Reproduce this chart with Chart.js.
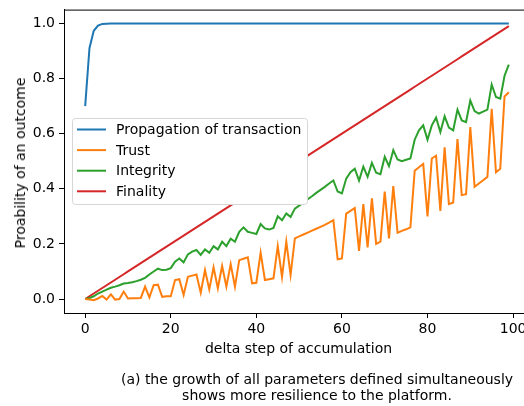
<!DOCTYPE html>
<html>
<head>
<meta charset="utf-8">
<script src="https://cdn.jsdelivr.net/npm/chart.js@4/dist/chart.umd.min.js"></script>
<style>
  html, body { margin: 0; padding: 0; width: 524px; height: 406px; overflow: hidden; background: #fff; }
  body { position: relative; font-family: "DejaVu Sans", sans-serif; color: #000; }
  #wrap { position: absolute; left: 0; top: 0; width: 524px; height: 406px; overflow: hidden; }
  #myChart { position: absolute; left: 0; top: 0; }
  .txt { position: absolute; font-size: 14px; white-space: nowrap; line-height: 16px; }
  #xTitle { left: 0; width: 597px; top: 340px; text-align: center; }
  #yTitle { left: 20px; top: 163px; transform: translate(-50%, -50%) rotate(-90deg); }
  #caption { left: 0; width: 634px; top: 371px; text-align: center; }
</style>
</head>
<body>
<div id="wrap">
<canvas id="myChart" width="540" height="406"></canvas>
<div class="txt" id="xTitle">delta step of accumulation</div>
<div class="txt" id="yTitle">Proability of an outcome</div>
<div class="txt" id="caption">(a) the growth of all parameters defined simultaneously<br>shows more resilience to the platform.</div>
</div>
<script>
// x axis: delta steps 0..99
const steps = Array.from({ length: 100 }, (_, i) => i);

const xTicks = [0, 20, 40, 60, 80, 100];
const yTicks = [0.0, 0.2, 0.4, 0.6, 0.8, 1.0];

const seriesNames = ['Propagation of transaction', 'Trust', 'Integrity', 'Finality'];
const seriesColors = ['#1f77b4', '#ff7f0e', '#2ca02c', '#d62728'];

const propagation = [
  0.70, 0.91, 0.973, 0.992, 0.998, 0.999, 1, 1, 1, 1,
  1, 1, 1, 1, 1, 1, 1, 1, 1, 1,
  1, 1, 1, 1, 1, 1, 1, 1, 1, 1,
  1, 1, 1, 1, 1, 1, 1, 1, 1, 1,
  1, 1, 1, 1, 1, 1, 1, 1, 1, 1,
  1, 1, 1, 1, 1, 1, 1, 1, 1, 1,
  1, 1, 1, 1, 1, 1, 1, 1, 1, 1,
  1, 1, 1, 1, 1, 1, 1, 1, 1, 1,
  1, 1, 1, 1, 1, 1, 1, 1, 1, 1,
  1, 1, 1, 1, 1, 1, 1, 1, 1, 1
];

const trust = [
  0, -0.002, -0.004, 0.002, 0.011, -0.002, 0.017, -0.002, 0.0, 0.027,
  0.002, 0.003, 0.003, 0.004, 0.045, 0.006, 0.05, 0.052, 0.008, 0.01,
  0.01, 0.069, 0.072, 0.015, 0.081, 0.085, 0.089, 0.023, 0.105, 0.035,
  0.115, 0.039, 0.12, 0.045, 0.127, 0.045, 0.141, 0.146, 0.151, 0.057,
  0.059, 0.168, 0.069, 0.072, 0.075, 0.192, 0.08, 0.208, 0.087, 0.22,
  0.227, 0.234, 0.241, 0.248, 0.255, 0.262, 0.269, 0.277, 0.286, 0.144,
  0.147, 0.31, 0.32, 0.33, 0.175, 0.344, 0.187, 0.365, 0.2, 0.208,
  0.39, 0.22, 0.41, 0.24, 0.247, 0.253, 0.26, 0.465, 0.478, 0.49,
  0.3, 0.51, 0.52, 0.32, 0.55, 0.344, 0.35, 0.58, 0.377, 0.38,
  0.624, 0.407, 0.419, 0.431, 0.443, 0.69, 0.46, 0.473, 0.735, 0.75
];

const integrity = [
  0, 0.004, 0.01, 0.02, 0.027, 0.034, 0.041, 0.045, 0.05, 0.056,
  0.058, 0.061, 0.065, 0.07, 0.077, 0.089, 0.1, 0.11, 0.105, 0.106,
  0.112, 0.135, 0.147, 0.133, 0.162, 0.172, 0.178, 0.16, 0.18, 0.168,
  0.192, 0.18, 0.208, 0.192, 0.219, 0.208, 0.244, 0.26, 0.244, 0.24,
  0.236, 0.272, 0.256, 0.252, 0.258, 0.3, 0.286, 0.31, 0.298, 0.328,
  0.339, 0.35, 0.362, 0.373, 0.385, 0.396, 0.407, 0.419, 0.43, 0.39,
  0.383, 0.437, 0.46, 0.473, 0.43, 0.48, 0.443, 0.494, 0.458, 0.453,
  0.516, 0.482, 0.54, 0.506, 0.5, 0.505, 0.51, 0.578, 0.612, 0.63,
  0.578, 0.63, 0.658, 0.606, 0.663, 0.622, 0.612, 0.687, 0.648, 0.642,
  0.72, 0.682, 0.673, 0.68, 0.687, 0.778, 0.733, 0.727, 0.81, 0.85
];

const finality = [
  0.00, 0.01, 0.02, 0.03, 0.04, 0.05, 0.06, 0.07, 0.08, 0.09,
  0.10, 0.11, 0.12, 0.13, 0.14, 0.15, 0.16, 0.17, 0.18, 0.19,
  0.20, 0.21, 0.22, 0.23, 0.24, 0.25, 0.26, 0.27, 0.28, 0.29,
  0.30, 0.31, 0.32, 0.33, 0.34, 0.35, 0.36, 0.37, 0.38, 0.39,
  0.40, 0.41, 0.42, 0.43, 0.44, 0.45, 0.46, 0.47, 0.48, 0.49,
  0.50, 0.51, 0.52, 0.53, 0.54, 0.55, 0.56, 0.57, 0.58, 0.59,
  0.60, 0.61, 0.62, 0.63, 0.64, 0.65, 0.66, 0.67, 0.68, 0.69,
  0.70, 0.71, 0.72, 0.73, 0.74, 0.75, 0.76, 0.77, 0.78, 0.79,
  0.80, 0.81, 0.82, 0.83, 0.84, 0.85, 0.86, 0.87, 0.88, 0.89,
  0.90, 0.91, 0.92, 0.93, 0.94, 0.95, 0.96, 0.97, 0.98, 0.99
];

const allSeries = [propagation, trust, integrity, finality];

// top spine + legend box inside the plot, like matplotlib
const framePlugin = {
  id: 'frameAndLegend',
  afterDatasetsDraw(chart) {
    const { ctx, chartArea } = chart;
    ctx.save();
    ctx.strokeStyle = '#000';
    ctx.lineWidth = 1;
    ctx.beginPath();
    ctx.moveTo(chartArea.left, chartArea.top + 0.5);
    ctx.lineTo(chartArea.right, chartArea.top + 0.5);
    ctx.stroke();

    // legend
    const bx = 72, by = 118, bw = 235, bh = 86, r = 3;
    ctx.beginPath();
    ctx.roundRect(bx + 0.5, by + 0.5, bw, bh, r);
    ctx.fillStyle = '#fff';
    ctx.fill();
    ctx.strokeStyle = '#d6d6d6';
    ctx.lineWidth = 1;
    ctx.stroke();

    ctx.font = '14px "DejaVu Sans"';
    ctx.textBaseline = 'middle';
    ctx.textAlign = 'left';
    chart.data.datasets.forEach((ds, i) => {
      const yy = 129.5 + i * 20.6;
      ctx.beginPath();
      ctx.moveTo(77, yy);
      ctx.lineTo(106, yy);
      ctx.strokeStyle = ds.borderColor;
      ctx.lineWidth = 2;
      ctx.stroke();
      ctx.fillStyle = '#000';
      ctx.fillText(ds.label, 116, yy + 1);
    });
    ctx.restore();
  }
};

const ctx = document.getElementById('myChart').getContext('2d');
const chartInstance = new Chart(ctx, {
  type: 'line',
  data: {
    labels: steps,
    datasets: allSeries.map((arr, i) => ({
      label: seriesNames[i],
      data: arr,
      borderColor: seriesColors[i],
      backgroundColor: seriesColors[i],
      borderWidth: 2,
      pointRadius: 0,
      tension: 0,
      fill: false
    }))
  },
  options: {
    responsive: false,
    animation: false,
    devicePixelRatio: 1,
    layout: { padding: { top: 6, right: 10, left: 0, bottom: 0 } },
    plugins: {
      legend: { display: false },
      tooltip: { enabled: false }
    },
    scales: {
      x: {
        type: 'linear',
        min: -4.95,
        max: 103.95,
        afterBuildTicks: scale => { scale.ticks = xTicks.map(v => ({ value: v })); },
        afterFit: scale => { scale.height = 93; },
        grid: { display: true, drawOnChartArea: false, tickLength: 5, tickColor: '#000' },
        border: { display: true, color: '#000', width: 1 },
        ticks: {
          color: '#000',
          padding: 3,
          maxRotation: 0,
          font: { family: 'DejaVu Sans', size: 14 },
          callback: v => v.toString()
        }
      },
      y: {
        min: -0.0507,
        max: 1.05,
        afterBuildTicks: scale => { scale.ticks = yTicks.map(v => ({ value: v })); },
        afterFit: scale => { scale.width = 64; },
        grid: { display: true, drawOnChartArea: false, tickLength: 5, tickColor: '#000' },
        border: { display: true, color: '#000', width: 1 },
        ticks: {
          color: '#000',
          padding: 4,
          font: { family: 'DejaVu Sans', size: 14, lineHeight: 0.8 },
          callback: v => v.toFixed(1)
        }
      }
    }
  },
  plugins: [framePlugin]
});
</script>
</body>
</html>
